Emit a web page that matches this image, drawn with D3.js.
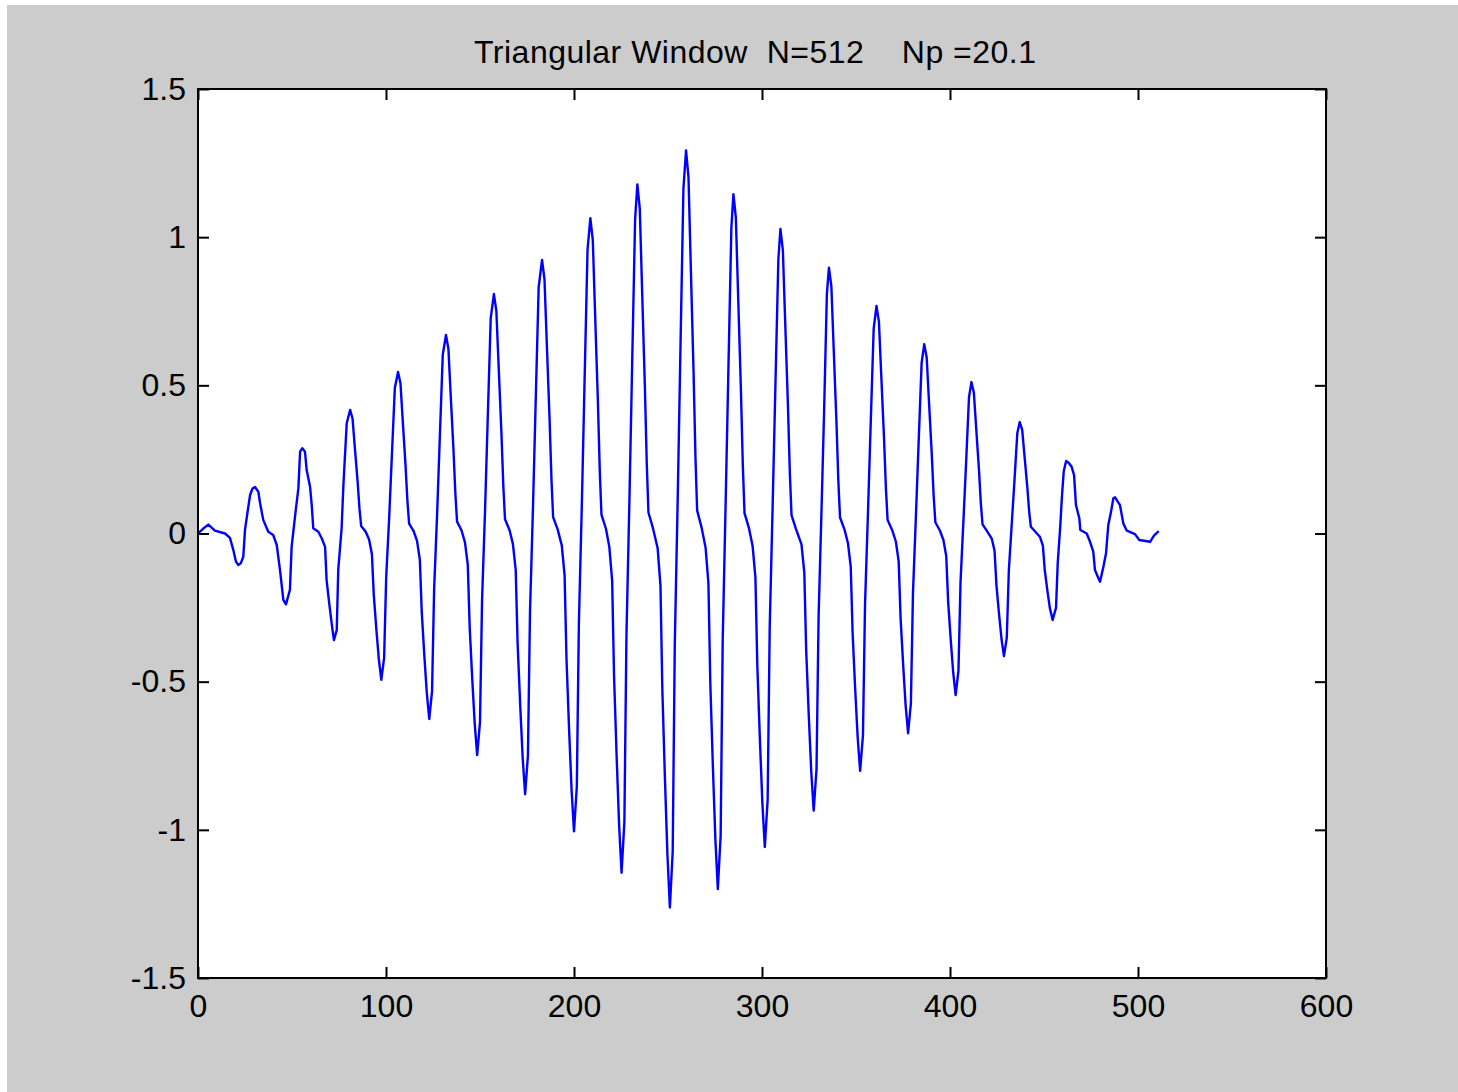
<!DOCTYPE html>
<html>
<head>
<meta charset="utf-8">
<script src="https://cdn.jsdelivr.net/npm/d3@7/dist/d3.min.js"></script>
<style>
  html, body { margin: 0; padding: 0; background: #ffffff; }
  svg { display: block; }
  text { font-family: "Liberation Sans", Arial, sans-serif; fill: #000; }
</style>
</head>
<body>
<svg id="chart" width="1458" height="1092"></svg>
<script>
// Chart title and axis settings
const titleText = "Triangular Window  N=512    Np =20.1";
const xDomain = [0, 600];
const yDomain = [-1.5, 1.5];
const xTicks = [0, 100, 200, 300, 400, 500, 600];
const yTicks = [-1.5, -1, -0.5, 0, 0.5, 1, 1.5];

// Windowed signal: [sample index, amplitude]
const leadIn = [
  [0, 0], [2.5, 0.015], [5.5, 0.03], [9, 0.01], [14.4, 0], [17, -0.015],
  [18.8, -0.056], [20.2, -0.095], [21.4, -0.106]
];
const risingHalf = [
  [22.8, -0.1], [24.1, -0.078], [25, 0.012], [26.3, 0.07], [27.7, 0.13], [29, 0.152], [30.3, 0.157],
  [32.1, 0.141], [33, 0.103], [34.7, 0.046], [37.4, 0.006], [40, -0.005], [41.9, -0.039], [43.6, -0.123], [45.4, -0.224], [46.8, -0.239],
  [48.9, -0.19], [49.8, -0.045], [51.6, 0.057], [53.4, 0.153], [54.3, 0.276], [55.5, 0.288],
  [56.9, 0.276], [57.8, 0.214], [59.6, 0.158], [60.5, 0.096], [61.3, 0.018], [64, 0.006], [65.8, -0.016], [67.6, -0.045], [68.4, -0.157], [69.8, -0.236], [71.1, -0.303], [72.3, -0.36],
  [73.8, -0.326], [74.6, -0.123], [76.4, 0.018], [77.3, 0.158], [79.1, 0.372], [80.9, 0.417],
  [82.2, 0.388], [83.3, 0.3], [84.9, 0.175], [85.9, 0.083], [86.8, 0.025], [89.2, 0.006], [91.0, -0.02], [92.5, -0.069], [93.5, -0.207], [94.9, -0.326], [96.2, -0.425], [97.5, -0.494],
  [99.0, -0.42], [100.1, -0.148], [101.7, 0.055], [103.0, 0.245], [104.7, 0.491], [106.4, 0.545],
  [107.7, 0.507], [108.8, 0.392], [110.4, 0.229], [111.4, 0.109], [112.3, 0.033], [114.7, 0.008], [116.5, -0.025], [118.0, -0.088], [119.0, -0.263], [120.4, -0.413], [121.7, -0.538], [123.0, -0.626],
  [124.5, -0.532], [125.6, -0.188], [127.2, 0.067], [128.5, 0.302], [130.2, 0.603], [131.9, 0.67],
  [133.2, 0.623], [134.3, 0.482], [135.9, 0.281], [136.9, 0.134], [137.8, 0.04], [140.2, 0.01], [142.0, -0.03], [143.5, -0.105], [144.5, -0.314], [145.9, -0.494], [147.2, -0.643], [148.5, -0.748],
  [150.0, -0.636], [151.1, -0.224], [152.7, 0.081], [154.0, 0.364], [155.7, 0.727], [157.4, 0.808],
  [158.7, 0.751], [159.8, 0.582], [161.4, 0.339], [162.4, 0.162], [163.3, 0.048], [165.7, 0.012], [167.5, -0.035], [169.0, -0.123], [170.0, -0.37], [171.4, -0.581], [172.7, -0.757], [174.0, -0.88],
  [175.5, -0.748], [176.6, -0.264], [178.2, 0.092], [179.5, 0.415], [181.2, 0.831], [183.0, 0.923],
  [184.3, 0.858], [185.4, 0.665], [187.0, 0.388], [188.0, 0.185], [188.9, 0.055], [191.3, 0.014], [193.5, -0.04], [195.0, -0.141], [196.0, -0.422], [197.4, -0.663], [198.7, -0.864], [200.0, -1.005],
  [201.5, -0.854], [202.6, -0.302], [204.2, 0.106], [205.5, 0.479], [207.2, 0.958], [208.7, 1.064],
  [210.0, 0.99], [211.1, 0.766], [212.7, 0.447], [213.7, 0.213], [214.6, 0.064], [217.0, 0.016], [218.8, -0.046], [220.3, -0.16], [221.3, -0.481], [222.7, -0.756], [224.0, -0.985], [225.3, -1.145],
  [226.8, -0.973], [227.9, -0.344], [229.5, 0.118], [230.8, 0.53], [232.5, 1.06], [233.7, 1.178],
  [235.0, 1.096], [236.1, 0.848], [237.7, 0.495], [238.7, 0.236], [239.6, 0.071], [242.0, 0.018], [244.5, -0.05], [246.0, -0.177], [247.0, -0.53], [248.4, -0.833], [249.7, -1.085], [251.0, -1.262],
  [252.5, -1.073], [253.6, -0.379], [255.2, 0.129], [256.5, 0.582], [258.2, 1.164], [259.6, 1.293]
];
const fallingHalf = [
  [260.9, 1.202], [262.0, 0.931], [263.6, 0.543], [264.6, 0.259], [265.5, 0.078], [267.9, 0.019], [270.0, -0.048], [271.5, -0.168], [272.5, -0.504], [273.9, -0.792], [275.2, -1.032], [276.5, -1.2],
  [278.0, -1.02], [279.1, -0.36], [280.7, 0.115], [282.0, 0.515], [283.7, 1.031], [284.8, 1.145],
  [286.1, 1.065], [287.2, 0.824], [288.8, 0.481], [289.8, 0.229], [290.7, 0.069], [293.1, 0.017], [295.0, -0.042], [296.5, -0.148], [297.5, -0.444], [298.9, -0.698], [300.2, -0.91], [301.5, -1.058],
  [303.0, -0.899], [304.1, -0.317], [305.7, 0.103], [307.0, 0.463], [308.7, 0.925], [309.8, 1.028],
  [311.1, 0.956], [312.2, 0.74], [313.8, 0.432], [314.8, 0.206], [315.7, 0.062], [318.1, 0.015], [321.0, -0.037], [322.5, -0.131], [323.5, -0.393], [324.9, -0.617], [326.2, -0.804], [327.5, -0.935],
  [329.0, -0.795], [330.1, -0.281], [331.7, 0.09], [333.0, 0.404], [334.5, 0.807], [335.6, 0.897],
  [336.9, 0.834], [338.0, 0.646], [339.6, 0.377], [340.6, 0.179], [341.5, 0.054], [343.9, 0.013], [345.7, -0.032], [347.2, -0.112], [348.2, -0.336], [349.6, -0.529], [350.9, -0.689], [352.2, -0.801],
  [353.7, -0.681], [354.8, -0.24], [356.4, 0.077], [357.7, 0.346], [359.4, 0.691], [360.9, 0.768],
  [362.2, 0.714], [363.3, 0.553], [364.9, 0.323], [365.9, 0.154], [366.8, 0.046], [369.2, 0.012], [371.2, -0.027], [372.7, -0.094], [373.7, -0.283], [375.1, -0.445], [376.4, -0.58], [377.7, -0.674],
  [379.2, -0.573], [380.3, -0.202], [381.9, 0.064], [383.2, 0.288], [384.9, 0.575], [386.3, 0.639],
  [387.6, 0.594], [388.7, 0.46], [390.3, 0.268], [391.3, 0.128], [392.2, 0.038], [394.6, 0.01], [396.5, -0.022], [398.0, -0.076], [399.0, -0.229], [400.4, -0.36], [401.7, -0.469], [403.0, -0.545],
  [404.5, -0.463], [405.6, -0.164], [407.2, 0.051], [408.5, 0.23], [410.1, 0.46], [411.4, 0.511],
  [412.7, 0.475], [413.8, 0.368], [415.4, 0.215], [416.4, 0.102], [417.3, 0.031], [419.7, 0.008], [422.2, -0.017], [423.7, -0.058], [424.7, -0.174], [426.1, -0.273], [427.4, -0.356], [428.7, -0.414],
  [430.2, -0.352], [431.3, -0.124], [432.9, 0.038], [434.2, 0.169], [435.8, 0.338], [437.1, 0.376],
  [438.4, 0.35], [439.5, 0.271], [441.1, 0.158], [442.1, 0.075], [443.0, 0.023], [445.4, 0.006], [447.9, -0.012], [449.4, -0.041], [450.4, -0.123], [451.8, -0.193], [453.1, -0.251], [454.6, -0.292],
  [456.4, -0.25], [457.3, -0.1], [458.6, 0.02], [459.5, 0.12], [460.5, 0.21], [461.8, 0.245],
  [463.2, 0.238], [464.7, 0.225], [466, 0.197], [467, 0.096], [468.8, 0.051], [469.3, 0.012], [472.7, 0], [474.5, -0.028], [476.2, -0.061], [477.1, -0.123], [478.9, -0.15], [479.8, -0.163],
  [481.6, -0.112], [483, -0.067], [484.2, 0.029], [485.5, 0.068], [486.9, 0.119], [487.8, 0.122]
];
const tailOut = [
  [490.4, 0.096], [492.2, 0.034], [494, 0.01], [498.4, -0.002], [500.7, -0.022],
  [506.4, -0.028], [508.5, -0.007], [511, 0.008]
];
const signal = leadIn.concat(risingHalf, fallingHalf, tailOut);

const svg = d3.select("#chart");
const W = 1458, H = 1092;
const plot = { left: 198, right: 1326, top: 89, bottom: 978 };

// Figure background
svg.append("rect").attr("x", 0).attr("y", 0).attr("width", W).attr("height", H).attr("fill", "#ffffff");
svg.append("rect").attr("x", 7).attr("y", 5).attr("width", W - 7).attr("height", H - 5).attr("fill", "#cccccc");

const x = d3.scaleLinear().domain(xDomain).range([plot.left, plot.right]);
const y = d3.scaleLinear().domain(yDomain).range([plot.bottom, plot.top]);

// Axes area
svg.append("rect")
  .attr("x", plot.left).attr("y", plot.top)
  .attr("width", plot.right - plot.left).attr("height", plot.bottom - plot.top)
  .attr("fill", "#ffffff");

// Signal trace
const line = d3.line().x(d => x(d[0])).y(d => y(d[1]));
svg.append("path")
  .datum(signal)
  .attr("d", line)
  .attr("fill", "none")
  .attr("stroke", "#0000ff")
  .attr("stroke-width", 2.4)
  .attr("stroke-linejoin", "round");

const tickLen = 11;
const fmtY = d => (d === 0 ? "0" : String(d));

function styleAxis(g) {
  g.select(".domain").remove();
  g.selectAll(".tick line").attr("stroke", "#000").attr("stroke-width", 2);
  g.selectAll(".tick text").attr("font-size", 32).attr("font-family", "Liberation Sans, Arial, sans-serif");
}

// Bottom axis with labels
svg.append("g")
  .attr("transform", `translate(0,${plot.bottom})`)
  .call(d3.axisBottom(x).tickValues(xTicks).tickSize(-tickLen).tickSizeOuter(0).tickPadding(16).tickFormat(d3.format("d")))
  .call(styleAxis);

// Top axis, ticks only
svg.append("g")
  .attr("transform", `translate(0,${plot.top})`)
  .call(d3.axisTop(x).tickValues(xTicks).tickSize(-tickLen).tickSizeOuter(0).tickFormat(""))
  .call(styleAxis);

// Left axis with labels
svg.append("g")
  .attr("transform", `translate(${plot.left},0)`)
  .call(d3.axisLeft(y).tickValues(yTicks).tickSize(-tickLen).tickSizeOuter(0).tickPadding(12).tickFormat(fmtY))
  .call(styleAxis);

// Right axis, ticks only
svg.append("g")
  .attr("transform", `translate(${plot.right},0)`)
  .call(d3.axisRight(y).tickValues(yTicks).tickSize(-tickLen).tickSizeOuter(0).tickFormat(""))
  .call(styleAxis);

// Axes box
svg.append("rect")
  .attr("x", plot.left).attr("y", plot.top)
  .attr("width", plot.right - plot.left).attr("height", plot.bottom - plot.top)
  .attr("fill", "none").attr("stroke", "#000").attr("stroke-width", 2);

// Title
svg.append("text")
  .attr("x", 474)
  .attr("y", 63)
  .attr("text-anchor", "start")
  .attr("font-size", 32)
  .attr("textLength", 562)
  .attr("lengthAdjust", "spacing")
  .style("white-space", "pre")
  .attr("xml:space", "preserve")
  .text(titleText);
</script>
</body>
</html>
